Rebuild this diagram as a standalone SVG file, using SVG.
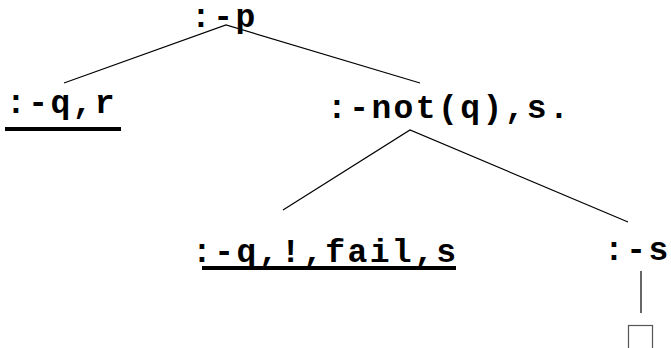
<svg xmlns="http://www.w3.org/2000/svg" width="671" height="348" viewBox="0 0 671 348">
<style>
text { font-family: "Liberation Mono", "Courier New", monospace; font-weight: bold; font-size: 33px; letter-spacing: 2.4px; fill: #000; }
.last { letter-spacing: 0; }
.edge { stroke: #000; stroke-width: 1.2; fill: none; }
.ul { fill: #000; }
</style>
<rect width="671" height="348" fill="#fff"/>
<g id="connectors">
<polyline class="edge" points="64,83 226,25 420,83"/>
<polyline class="edge" points="283,210 410,130 628,222"/>
<line class="edge" x1="641" y1="271" x2="641" y2="313"/>
</g>
<g id="n-p"><text x="191" y="27">:-<tspan class="last">p</tspan></text></g>
<g id="n-qr"><text x="6" y="113">:-q,<tspan class="last">r</tspan></text><rect class="ul" x="5" y="127" width="116" height="4"/></g>
<g id="n-notq"><text x="327" y="118">:-not(q),s<tspan class="last">.</tspan></text></g>
<g id="n-qfail"><text x="192" y="262">:-q,!,fail,<tspan class="last">s</tspan></text><rect class="ul" x="202" y="266" width="254" height="4"/></g>
<g id="n-s"><text x="604" y="260">:-<tspan class="last">s</tspan></text></g>
<g id="n-empty"><rect x="628.5" y="325.5" width="24" height="30" fill="none" stroke="#555" stroke-width="1.2"/></g>
</svg>
